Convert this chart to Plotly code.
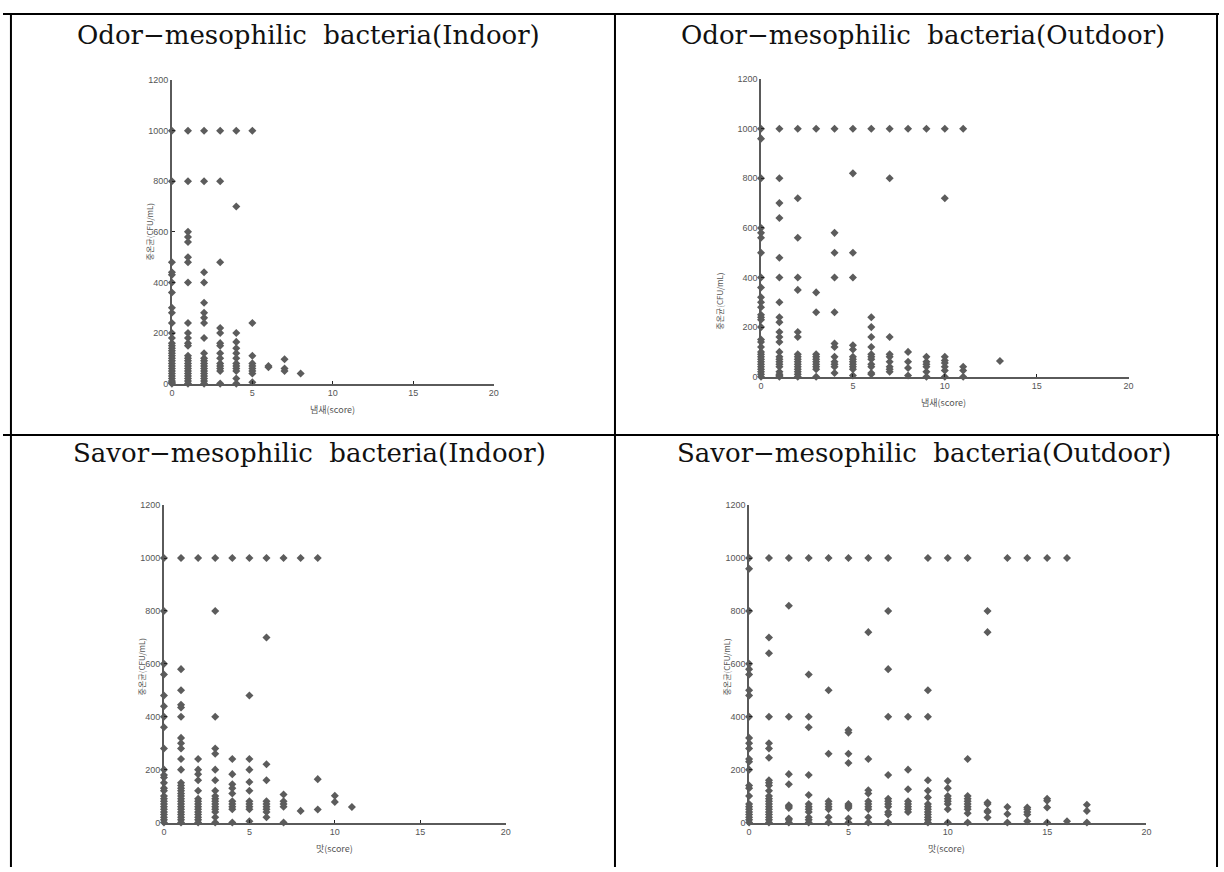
import plotly.graph_objects as go

# ---------------- data (score -> CFU/mL values) ----------------
odor_indoor = {
    0: [1000, 800, 480, 440, 430, 400, 360, 300, 280, 240, 200, 180, 160, 150, 140, 130, 120, 110, 100, 90, 80, 70, 60, 50, 40, 30, 20, 10, 5, 0],
    1: [1000, 800, 600, 580, 560, 500, 480, 400, 240, 200, 180, 160, 150, 110, 100, 90, 80, 70, 60, 50, 40, 30, 20, 10, 0],
    2: [1000, 800, 440, 400, 320, 280, 260, 240, 180, 120, 100, 90, 80, 70, 60, 50, 40, 30, 20, 10, 0],
    3: [1000, 800, 480, 220, 200, 160, 150, 120, 100, 80, 70, 60, 50, 0],
    4: [1000, 700, 200, 165, 140, 120, 100, 80, 70, 60, 50, 20, 0],
    5: [1000, 240, 110, 80, 70, 60, 50, 40, 5],
    6: [70, 65],
    7: [96, 60, 50],
    8: [40],
}

odor_outdoor = {
    0: [1000, 960, 800, 600, 580, 560, 500, 400, 360, 320, 300, 280, 250, 240, 230, 200, 150, 140, 120, 100, 90, 80, 70, 60, 50, 40, 30, 20, 10, 0],
    1: [1000, 800, 700, 640, 480, 400, 300, 240, 220, 180, 160, 140, 100, 80, 70, 60, 50, 40, 20, 10, 5, 0],
    2: [1000, 720, 560, 400, 350, 180, 160, 90, 80, 70, 60, 50, 40, 30, 20, 10, 0],
    3: [1000, 340, 260, 90, 80, 70, 60, 50, 40, 30, 0],
    4: [1000, 580, 500, 400, 260, 134, 120, 80, 60, 50, 40, 15],
    5: [1000, 820, 500, 400, 127, 110, 80, 70, 60, 50, 40, 30, 5],
    6: [1000, 240, 200, 160, 120, 90, 80, 70, 50, 40, 15, 10],
    7: [1000, 800, 160, 90, 80, 60, 40, 30, 20],
    8: [1000, 100, 60, 35, 5],
    9: [1000, 80, 60, 50, 40, 20, 0],
    10: [1000, 720, 80, 65, 55, 40, 25, 0],
    11: [1000, 40, 25, 0],
    13: [63],
}

savor_indoor = {
    0: [1000, 800, 600, 560, 480, 440, 400, 360, 280, 200, 180, 170, 150, 130, 120, 100, 90, 80, 70, 60, 50, 40, 30, 20, 10, 0],
    1: [1000, 580, 500, 445, 435, 400, 320, 300, 280, 240, 200, 150, 140, 130, 120, 110, 100, 90, 80, 70, 60, 50, 40, 30, 20, 10, 0],
    2: [1000, 240, 200, 183, 160, 120, 90, 80, 70, 60, 50, 40, 30, 20, 10, 0],
    3: [1000, 800, 400, 280, 260, 200, 160, 120, 100, 90, 80, 70, 60, 50, 40, 20, 0],
    4: [1000, 240, 183, 145, 130, 110, 80, 70, 60, 50, 0],
    5: [1000, 480, 240, 200, 153, 120, 80, 70, 60, 50, 5],
    6: [1000, 700, 220, 160, 80, 70, 60, 50, 40, 20],
    7: [1000, 106, 80, 70, 60, 0],
    8: [1000, 44],
    9: [1000, 164, 49],
    10: [101, 78],
    11: [59],
}

savor_outdoor = {
    0: [1000, 960, 800, 600, 580, 560, 500, 480, 400, 320, 300, 280, 240, 230, 200, 140, 130, 100, 70, 60, 50, 40, 30, 20, 10, 0],
    1: [1000, 700, 640, 400, 300, 280, 245, 160, 150, 140, 120, 100, 90, 80, 70, 60, 50, 40, 30, 20, 10, 0],
    2: [1000, 820, 400, 183, 145, 65, 60, 55, 15, 10, 0],
    3: [1000, 560, 400, 360, 180, 104, 70, 60, 50, 40, 20, 10, 0],
    4: [1000, 500, 260, 80, 70, 60, 50, 20, 0],
    5: [1000, 350, 340, 260, 225, 70, 65, 60, 55, 15, 0],
    6: [1000, 720, 240, 122, 110, 80, 70, 60, 50, 20, 0],
    7: [1000, 800, 580, 400, 180, 90, 80, 70, 60, 40, 30, 0],
    8: [400, 200, 126, 80, 70, 60, 50, 40],
    9: [1000, 500, 400, 160, 120, 95, 70, 60, 50, 40, 30, 20, 10, 0],
    10: [1000, 157, 130, 100, 90, 80, 70, 50, 0],
    11: [1000, 240, 100, 90, 80, 70, 60, 50, 35, 0],
    12: [800, 720, 76, 70, 44, 40, 19],
    13: [1000, 59, 32, 0],
    14: [1000, 57, 50, 40, 30, 5],
    15: [1000, 90, 82, 57, 0],
    16: [1000, 5],
    17: [67, 44, 0],
}

titles = [
    "Odor\u2212mesophilic  bacteria(Indoor)",
    "Odor\u2212mesophilic  bacteria(Outdoor)",
    "Savor\u2212mesophilic  bacteria(Indoor)",
    "Savor\u2212mesophilic  bacteria(Outdoor)",
]
x_titles = ["냄새(score)", "냄새(score)", "맛(score)", "맛(score)"]
y_title = "중온균(CFU/mL)"
x_ticks = [0, 5, 10, 15, 20]
y_ticks = [0, 200, 400, 600, 800, 1000, 1200]

# ---------------- layout geometry (pixels) ----------------
W, H = 1224, 872
panels = [
    dict(data=odor_indoor, x0=170, x1=494, y0=383, y1=76, title_xy=(308, 30), xt_xy=(332, 409), yt_xy=(147, 230)),
    dict(data=odor_outdoor, x0=763, x1=1133, y0=376, y1=75, title_xy=(926, 30), xt_xy=(947, 402), yt_xy=(721, 300)),
    dict(data=savor_indoor, x0=162, x1=506, y0=827, y1=506, title_xy=(309, 453), xt_xy=(334, 853), yt_xy=(139, 670)),
    dict(data=savor_outdoor, x0=751, x1=1151, y0=827, y1=506, title_xy=(927, 453), xt_xy=(950, 853), yt_xy=(728, 670)),
]

fig = go.Figure()
annotations = []
marker_color = "#5c5c5c"
tick_font = dict(family="Liberation Sans, Arial, sans-serif", size=9, color="#555555")

for i, p in enumerate(panels):
    xs, ys = [], []
    for score, vals in p["data"].items():
        for v in vals:
            xs.append(score)
            ys.append(v)
    xa = "x" if i == 0 else f"x{i+1}"
    ya = "y" if i == 0 else f"y{i+1}"
    fig.add_trace(go.Scatter(
        x=xs, y=ys, mode="markers", xaxis=xa, yaxis=ya,
        marker=dict(symbol="diamond", size=6.2, color=marker_color, line=dict(width=0)),
        cliponaxis=False, showlegend=False, hoverinfo="x+y",
    ))
    axis_common = dict(showgrid=False, zeroline=False, showline=True, linecolor="#5a5a5a",
                       linewidth=1.6, ticks="inside", ticklen=3, tickwidth=1, tickcolor="#222222",
                       tickfont=tick_font)
    fig.update_layout(**{
        ("xaxis" if i == 0 else f"xaxis{i+1}"): dict(
            domain=[p["x0"] / W, p["x1"] / W], range=[0, 20], tickvals=x_ticks,
            anchor=ya, fixedrange=True, **axis_common),
        ("yaxis" if i == 0 else f"yaxis{i+1}"): dict(
            domain=[1 - p["y0"] / H, 1 - p["y1"] / H], range=[0, 1200], tickvals=y_ticks,
            anchor=xa, fixedrange=True, **axis_common),
    })
    tx, ty = p["title_xy"]
    annotations.append(dict(text=titles[i], x=tx / W, y=1 - ty / H, xref="paper", yref="paper",
                            showarrow=False, xanchor="center", yanchor="middle",
                            font=dict(family="DejaVu Serif, Liberation Serif, serif", size=26, color="#111111")))
    ax_, ay_ = p["xt_xy"]
    annotations.append(dict(text=x_titles[i], x=ax_ / W, y=1 - ay_ / H, xref="paper", yref="paper",
                            showarrow=False, xanchor="center", yanchor="middle",
                            font=dict(family="Noto Sans CJK KR, Liberation Sans, sans-serif", size=9, color="#555555")))
    yx, yy = p["yt_xy"]
    annotations.append(dict(text=y_title, x=yx / W, y=1 - yy / H, xref="paper", yref="paper",
                            showarrow=False, xanchor="center", yanchor="middle", textangle=-90,
                            font=dict(family="Noto Sans CJK KR, Liberation Sans, sans-serif", size=8, color="#555555")))

# table border lines (bottom edge lies just outside the page, as in the reference)
line_style = dict(color="#000000", width=2)
shapes = [
    dict(type="line", xref="paper", yref="paper", x0=0, x1=1, y0=1 - 9 / H, y1=1 - 9 / H, line=line_style),
    dict(type="line", xref="paper", yref="paper", x0=8 / W, x1=8 / W, y0=0, y1=1 - 9 / H, line=line_style),
    dict(type="line", xref="paper", yref="paper", x0=1222 / W, x1=1222 / W, y0=0, y1=1 - 9 / H, line=line_style),
    dict(type="line", xref="paper", yref="paper", x0=616 / W, x1=616 / W, y0=0, y1=1 - 9 / H, line=line_style),
    dict(type="line", xref="paper", yref="paper", x0=0, x1=1, y0=1 - 435 / H, y1=1 - 435 / H, line=line_style),
]

fig.update_layout(
    width=W, height=H, margin=dict(l=0, r=0, t=0, b=0),
    paper_bgcolor="white", plot_bgcolor="white",
    annotations=annotations, shapes=shapes, showlegend=False,
)

fig.write_html("out.html", config={"displayModeBar": False},
               post_script="document.body.style.margin='0';document.body.style.overflow='hidden';")
